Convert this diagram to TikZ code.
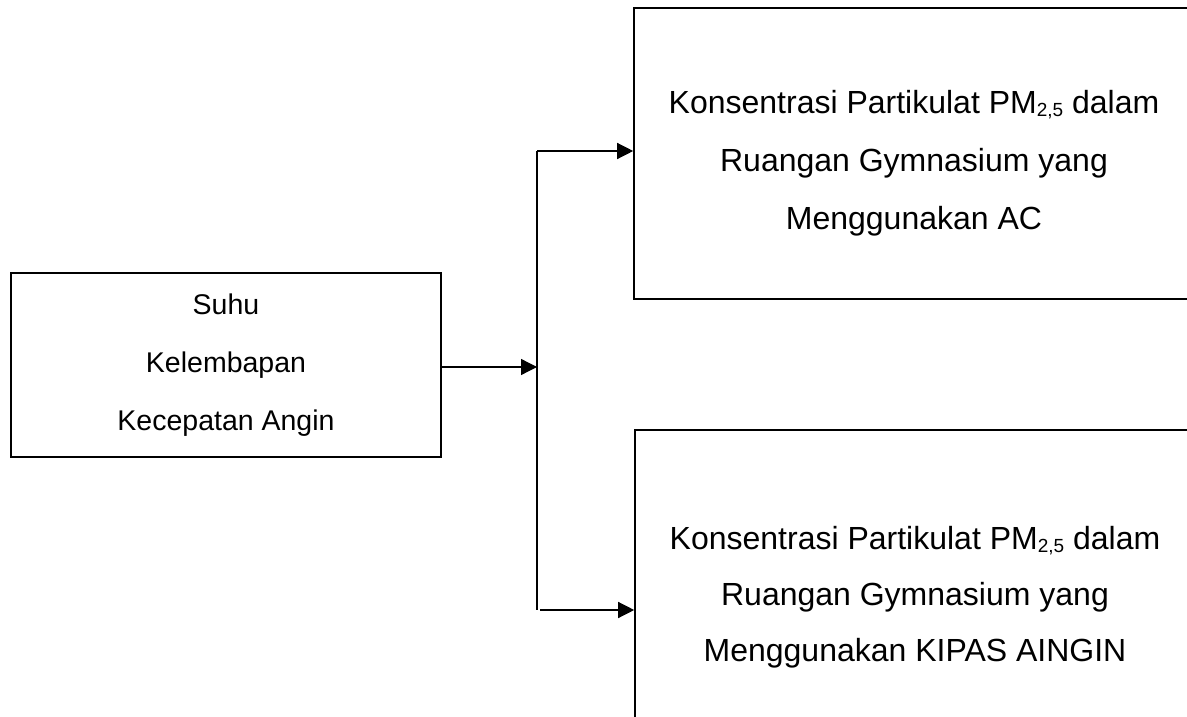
\documentclass[tikz,border=0pt]{standalone}
\usepackage{fontspec}
\setmainfont{Liberation Sans}
\usetikzlibrary{arrows.meta}
\newcommand{\pmsub}{PM\raisebox{-3pt}{\fontsize{19pt}{19pt}\selectfont 2,5}}
\begin{document}
\begin{tikzpicture}[x=1pt,y=-1pt,
 boxnode/.style={draw=black,line width=1.6pt,inner sep=0pt,align=center},
 textnode/.style={inner sep=0pt,align=center},
 conn/.style={line width=1.3pt},
 arr/.style={conn,-{Triangle[length=16pt,width=16pt]}},
 leftfont/.style={font=\fontsize{28.5pt}{58pt}\selectfont},
 topfont/.style={font=\fontsize{32pt}{58pt}\selectfont},
 botfont/.style={font=\fontsize{32pt}{56pt}\selectfont}]
\clip (0,0) rectangle (1187,717);
\fill[white] (0,0) rectangle (1187,717);
\node[boxnode,leftfont,minimum width=430pt,minimum height=184pt] (src) at (226,365) {Suhu\\Kelembapan\\Kecepatan Angin};
\node[boxnode,minimum width=560pt,minimum height=291pt] (top) at (914,153.5) {};
\node[textnode,topfont] (toptext) at (914,163.5) {Konsentrasi Partikulat \pmsub\ dalam\\Ruangan Gymnasium yang\\Menggunakan AC};
\node[boxnode,minimum width=560pt,minimum height=322pt] (bot) at (915,591) {};
\node[textnode,botfont] (bottext) at (915,597) {Konsentrasi Partikulat \pmsub\ dalam\\Ruangan Gymnasium yang\\Menggunakan KIPAS AINGIN};
\coordinate (j) at (537,367);
\coordinate (jt) at (537,151);
\coordinate (jb) at (537,610);
\coordinate (jb2) at (540,610);
\draw[arr] (src.east |- j) -- (j);
\draw[conn] (jt) -- (jb);
\draw[arr] (jt) -- (top.west |- jt);
\draw[arr] (jb2) -- (bot.west |- jb2);
\end{tikzpicture}
\end{document}
